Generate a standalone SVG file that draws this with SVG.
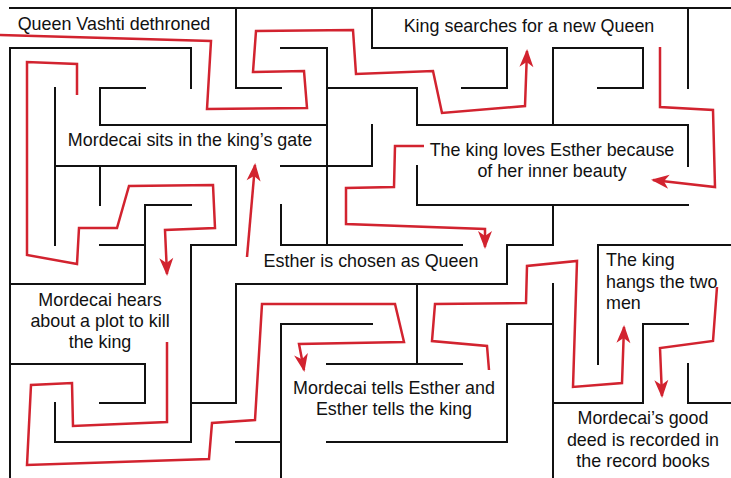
<svg xmlns="http://www.w3.org/2000/svg" width="731" height="478" viewBox="0 0 731 478">
<style>
.wall{fill:none;stroke:#111;stroke-width:2;stroke-linecap:square}
.path{fill:none;stroke:#d2232f;stroke-width:2.5;stroke-linejoin:miter}
.lbl{font-family:"Liberation Sans",Arial,Helvetica,sans-serif;font-size:17.9px;fill:#111}
.c{text-anchor:middle}
</style>
<defs>
<marker id="ah" markerUnits="userSpaceOnUse" markerWidth="24" markerHeight="20" viewBox="-18 -10 24 20" refX="0" refY="0" orient="auto">
<path d="M2,0 L-16,-7 L-11,0 L-16,7 Z" fill="#d2232f"/>
</marker>
</defs>
<rect width="731" height="478" fill="#fff"/>
<g id="maze">
<path class="wall" d="M10,8 H733 M10,48 V478
M10,48 H191 V88
M236,8 V88 H281
M281,48 H327 V245
M372,8 V48 H507 V88 H462
M553,125 V48 H643 V88 H598
M688,8 V88
M55,88 V245
M145,88 H100 V125 H327
M327,88 H417 V125 H688 V166
M372,125 V166 H281
M55,166 H236 V245 H191
M100,166 V205
M191,205 H145 V284
M100,245 H145
M10,284 H145
M281,205 V245 H462
M417,166 V205 H688
M553,205 V245 H507 V284 H236 V403 H191
M191,245 V442 H55 V403
M10,364 H145 V403 H100
M236,442 H281 M281,478 V324 H372
M417,284 V364 M327,364 H462
M327,442 H507 V324 H553 M553,284 V478
M553,403 H643 V324 H688
M733,245 H598 V364
M688,364 V403 H733"/>
</g>
<g id="connectors">
<path id="c1" class="path" marker-end="url(#ah)" d="M0,35 L211,41 L207,109 L307,108 L304,71 L253,72 L256,31 L353,30 L356,74 L433,71 L442,113 L525,106 L527,51"/>
<path id="c2" class="path" marker-end="url(#ah)" d="M660,47 L660,107 L713,110 L715,187 L653,180"/>
<path id="c3" class="path" marker-end="url(#ah)" d="M424,146 L395,146 L394,187 L346,188 L346,224 L485,229 L485,247"/>
<path id="c4" class="path" marker-end="url(#ah)" d="M247,257 L255,165"/>
<path id="c5" class="path" marker-end="url(#ah)" d="M77,95 L77,64 L27,62 L27,255 L77,264 L79,228 L117,228 L129,186 L213,185 L215,228 L165,230 L167,274"/>
<path id="c6" class="path" marker-end="url(#ah)" d="M167,342 L167,422 L73,426 L72,383 L31,385 L27,465 L209,459 L212,423 L255,420 L262,304 L395,304 L404,342 L299,344 L304,370"/>
<path id="c7" class="path" marker-end="url(#ah)" d="M489,370 L487,346 L432,341 L435,304 L526,303 L527,266 L577,261 L573,387 L622,383 L624,327"/>
<path id="c8" class="path" marker-end="url(#ah)" d="M717,287 L713,341 L660,348 L662,396"/>
</g>
<g id="n-vashti"><text class="lbl c" x="114" y="30">Queen Vashti dethroned</text></g>
<g id="n-search"><text class="lbl c" x="529" y="32">King searches for a new Queen</text></g>
<g id="n-gate"><text class="lbl c" x="190" y="146">Mordecai sits in the king’s gate</text></g>
<g id="n-loves"><text class="lbl c" x="552" y="156">The king loves Esther because</text><text class="lbl c" x="552" y="177">of her inner beauty</text></g>
<g id="n-chosen"><text class="lbl c" x="371" y="267">Esther is chosen as Queen</text></g>
<g id="n-plot"><text class="lbl c" x="100" y="306">Mordecai hears</text><text class="lbl c" x="100" y="327">about a plot to kill</text><text class="lbl c" x="100" y="348">the king</text></g>
<g id="n-tells"><text class="lbl c" x="394" y="394">Mordecai tells Esther and</text><text class="lbl c" x="394" y="415">Esther tells the king</text></g>
<g id="n-hangs"><text class="lbl" x="606" y="266">The king</text><text class="lbl" x="606" y="288">hangs the two</text><text class="lbl" x="606" y="309">men</text></g>
<g id="n-deed"><text class="lbl c" x="643" y="424">Mordecai’s good</text><text class="lbl c" x="643" y="446">deed is recorded in</text><text class="lbl c" x="643" y="467">the record books</text></g>
</svg>
